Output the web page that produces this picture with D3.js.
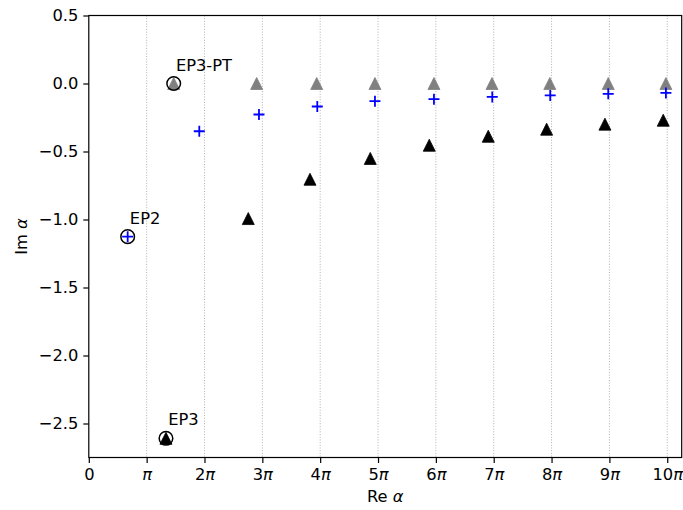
<!DOCTYPE html>
<html>
<head>
<meta charset="utf-8">
<script src="https://cdn.jsdelivr.net/npm/d3@7"></script>
<style>
  html, body { margin: 0; padding: 0; background: #fff; }
  svg text { font-family: "DejaVu Sans", sans-serif; }
</style>
</head>
<body>
<svg id="chart" width="683" height="510"></svg>
<script>
// ---- data (Re alpha in units of pi, Im alpha) ----
const xTickMultiples = [0, 1, 2, 3, 4, 5, 6, 7, 8, 9, 10];
const xTickLabels = ["0", "π", "2π", "3π", "4π", "5π", "6π", "7π", "8π", "9π", "10π"];
const yTicks = [0.5, 0.0, -0.5, -1.0, -1.5, -2.0, -2.5];

const plusRe = [1.910, 2.942, 3.950, 4.947, 5.967, 6.975, 7.977, 8.980, 9.977];
const plusIm = [-0.351, -0.228, -0.169, -0.130, -0.115, -0.099, -0.088, -0.076, -0.069];

const grayRe = [2.902, 3.940, 4.947, 5.967, 6.970, 7.970, 8.980, 9.977];
const grayIm = [0, 0, 0, 0, 0, 0, 0, 0];

const blackRe = [2.757, 3.824, 4.866, 5.886, 6.906, 7.915, 8.923, 9.931];
const blackIm = [-0.993, -0.704, -0.551, -0.454, -0.388, -0.336, -0.299, -0.270];

const epNames = ["EP3-PT", "EP2", "EP3"];
const epRe = [1.468, 0.672, 1.334];
const epIm = [0.0, -1.126, -2.609];
const epInner = ["gray", "plus", "black"];

// ---- layout ----
const FS = "16.3px";
const svg = d3.select("#chart");
const m = { left: 88.8, right: 681.7, top: 15.5, bottom: 457.5 };
const PI = Math.PI;
const x = d3.scaleLinear().domain([0, 10.25 * PI]).range([m.left, m.right]);
const y = d3.scaleLinear().domain([-2.75, 0.5]).range([m.bottom, m.top]);

// grid (vertical dotted)
svg.append("g").selectAll("line")
  .data(xTickMultiples.filter(d => d > 0))
  .join("line")
  .attr("x1", d => x(d * PI)).attr("x2", d => x(d * PI))
  .attr("y1", m.top).attr("y2", m.bottom)
  .attr("stroke", "#b0b0b0").attr("stroke-width", 1)
  .attr("stroke-dasharray", "1,1.7");

// axes
const xAxis = d3.axisBottom(x)
  .tickValues(xTickMultiples.map(d => d * PI))
  .tickSize(5.5).tickPadding(5)
  .tickFormat(() => "");
const gx = svg.append("g").attr("transform", `translate(0,${m.bottom})`).call(xAxis);
gx.select(".domain").remove();
gx.selectAll(".tick line").attr("stroke", "#000").attr("stroke-width", 1.2);
gx.selectAll(".tick").each(function (d, i) {
  const t = d3.select(this).append("text")
    .attr("y", 22).attr("text-anchor", "middle")
    .attr("fill", "#000").style("font-size", FS);
  const lab = xTickLabels[i];
  const num = lab.replace("π", "");
  if (num.length) t.append("tspan").text(num);
  if (lab.includes("π")) t.append("tspan").style("font-style", "italic").text("π");
});

const yAxis = d3.axisLeft(y)
  .tickValues(yTicks).tickSize(5.5).tickPadding(5)
  .tickFormat(d => d3.format(".1f")(d).replace("-", "\u2212"));
const gy = svg.append("g").attr("transform", `translate(${m.left},0)`).call(yAxis);
gy.select(".domain").remove();
gy.selectAll(".tick line").attr("stroke", "#000").attr("stroke-width", 1.2);
gy.selectAll(".tick text").attr("fill", "#000").style("font-size", FS).attr("font-family", "DejaVu Sans");

// frame
svg.append("rect")
  .attr("x", m.left).attr("y", m.top)
  .attr("width", m.right - m.left).attr("height", m.bottom - m.top)
  .attr("fill", "none").attr("stroke", "#000").attr("stroke-width", 1.2);

// markers
const tri = (s) => `M0,${-s}L${-s},${s}L${s},${s}Z`;
const plotTri = (re, im, color) => {
  svg.append("g").selectAll("path")
    .data(re.map((r, i) => [r, im[i]]))
    .join("path")
    .attr("d", tri(6))
    .attr("transform", d => `translate(${x(d[0] * PI)},${y(d[1])})`)
    .attr("fill", color).attr("stroke", color).attr("stroke-width", 0.8);
};
const plotPlus = (re, im) => {
  svg.append("g").selectAll("path")
    .data(re.map((r, i) => [r, im[i]]))
    .join("path")
    .attr("d", "M-5.5,0H5.5M0,-5.5V5.5")
    .attr("transform", d => `translate(${x(d[0] * PI)},${y(d[1])})`)
    .attr("fill", "none").attr("stroke", "#0000ff").attr("stroke-width", 1.8);
};

plotTri(grayRe, grayIm, "#808080");
plotTri(blackRe, blackIm, "#000000");
plotPlus(plusRe, plusIm);

// exceptional points
epNames.forEach((name, i) => {
  const r = [epRe[i]], im = [epIm[i]];
  if (epInner[i] === "gray") plotTri(r, im, "#808080");
  else if (epInner[i] === "black") plotTri(r, im, "#000000");
  else plotPlus(r, im);
  const cx = x(epRe[i] * PI), cy = y(epIm[i]);
  svg.append("circle").attr("cx", cx).attr("cy", cy).attr("r", 6.8)
    .attr("fill", "none").attr("stroke", "#000").attr("stroke-width", 1.5);
  svg.append("text").attr("x", cx + 2.2).attr("y", cy - 13)
    .attr("fill", "#000").style("font-size", FS).text(name);
});

// axis labels
const xl = svg.append("text").attr("x", (m.left + m.right) / 2).attr("y", 502)
  .attr("text-anchor", "middle").attr("fill", "#000").style("font-size", FS);
xl.append("tspan").text("Re ");
xl.append("tspan").style("font-style", "italic").text("α");

const yl = svg.append("text")
  .attr("transform", `translate(26.5,${(m.top + m.bottom) / 2}) rotate(-90)`)
  .attr("text-anchor", "middle").attr("fill", "#000").style("font-size", FS);
yl.append("tspan").text("Im ");
yl.append("tspan").style("font-style", "italic").text("α");
</script>
</body>
</html>
